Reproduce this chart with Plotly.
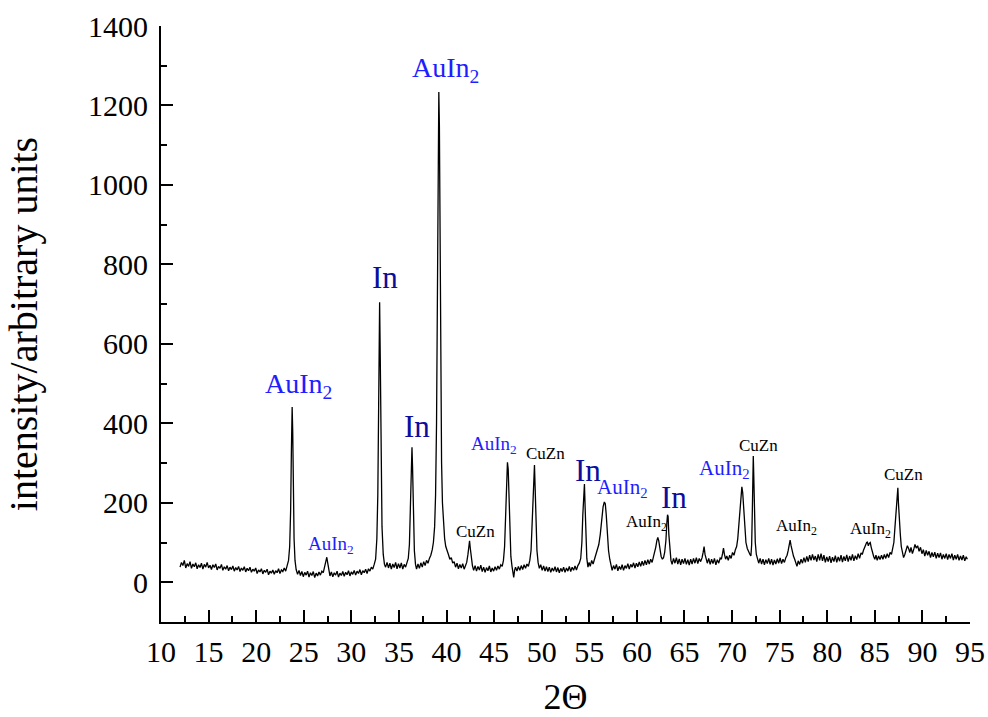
import plotly.graph_objects as go

# (2θ, intensity)
xrd_pattern = [
    (12.00, 38), (12.15, 50), (12.30, 42), (12.45, 55), (12.60, 36), (12.75, 47), (12.90, 40), (13.05, 52),
    (13.20, 35), (13.35, 46), (13.50, 39), (13.65, 49), (13.80, 34), (13.95, 44), (14.10, 37), (14.25, 48),
    (14.40, 33), (14.55, 45), (14.70, 38), (14.85, 50), (15.00, 36), (15.15, 43), (15.30, 32), (15.45, 44),
    (15.60, 37), (15.75, 46), (15.90, 31), (16.05, 40), (16.20, 35), (16.35, 45), (16.50, 30), (16.65, 39),
    (16.80, 33), (16.95, 42), (17.10, 29), (17.25, 38), (17.40, 32), (17.55, 41), (17.70, 28), (17.85, 37),
    (18.00, 31), (18.15, 40), (18.30, 27), (18.45, 36), (18.60, 30), (18.75, 39), (18.90, 26), (19.05, 35),
    (19.20, 29), (19.35, 38), (19.50, 25), (19.65, 33), (19.80, 28), (19.95, 36), (20.10, 22), (20.25, 31),
    (20.40, 26), (20.55, 34), (20.70, 21), (20.85, 30), (21.00, 25), (21.15, 33), (21.30, 19), (21.45, 28),
    (21.60, 23), (21.75, 31), (21.90, 20), (22.05, 29), (22.20, 24), (22.35, 34), (22.50, 22), (22.65, 31),
    (22.80, 27), (22.95, 36), (23.10, 28), (23.25, 42),
    (23.40, 55), (23.52, 90), (23.62, 180), (23.70, 330), (23.78, 441), (23.84, 380), (23.90, 230), (23.98, 110),
    (24.08, 55), (24.20, 32),
    (24.35, 20), (24.50, 30), (24.65, 17), (24.80, 27), (24.95, 14), (25.10, 25), (25.25, 18), (25.40, 28),
    (25.55, 13), (25.70, 24), (25.85, 17), (26.00, 27), (26.15, 12), (26.30, 23), (26.45, 16), (26.60, 26),
    (26.75, 18), (26.90, 28),
    (27.05, 24), (27.18, 38), (27.30, 50), (27.42, 63), (27.52, 48), (27.65, 32),
    (27.75, 16), (27.90, 26), (28.05, 14), (28.20, 24), (28.35, 18), (28.50, 28), (28.65, 13), (28.80, 23),
    (28.95, 17), (29.10, 27), (29.25, 15), (29.40, 25), (29.55, 19), (29.70, 29), (29.85, 16), (30.00, 26),
    (30.15, 20), (30.30, 30), (30.45, 18), (30.60, 28), (30.75, 22), (30.90, 32), (31.05, 19), (31.20, 29),
    (31.35, 24), (31.50, 33), (31.65, 22), (31.80, 34), (31.95, 28), (32.10, 38), (32.25, 33), (32.40, 45),
    (32.55, 58), (32.68, 110), (32.78, 220), (32.87, 450), (32.97, 705), (33.04, 560), (33.12, 300), (33.22, 140),
    (33.35, 70), (33.48, 45),
    (33.60, 38), (33.75, 50), (33.90, 36), (34.05, 48), (34.20, 33), (34.35, 46), (34.50, 37), (34.65, 50),
    (34.80, 34), (34.95, 47), (35.10, 36), (35.25, 49), (35.40, 33), (35.55, 45), (35.70, 38), (35.85, 52),
    (35.98, 60), (36.10, 95), (36.22, 180), (36.32, 300), (36.37, 340), (36.43, 290), (36.52, 160), (36.62, 80),
    (36.74, 45),
    (36.85, 33), (37.00, 46), (37.15, 35), (37.30, 49), (37.45, 38), (37.60, 52), (37.75, 42), (37.90, 55),
    (38.05, 48),
    (38.20, 60), (38.35, 68), (38.50, 82), (38.62, 100), (38.75, 140), (38.85, 220), (38.95, 400), (39.05, 700),
    (39.13, 1050), (39.19, 1234), (39.25, 1150), (39.32, 850), (39.40, 500), (39.48, 300), (39.57, 200), (39.68, 140),
    (39.80, 110), (39.92, 90), (40.05, 78), (40.20, 70), (40.35, 58), (40.50, 62), (40.65, 48), (40.80, 52),
    (40.95, 38), (41.10, 48), (41.25, 34), (41.40, 45), (41.55, 36), (41.70, 47), (41.85, 33), (42.00, 44),
    (42.12, 50),
    (42.25, 70), (42.35, 90), (42.42, 104), (42.50, 85), (42.60, 60), (42.72, 42),
    (42.85, 30), (43.00, 42), (43.15, 28), (43.30, 40), (43.45, 31), (43.60, 43), (43.75, 27), (43.90, 38),
    (44.05, 25), (44.20, 37), (44.35, 29), (44.50, 41), (44.65, 26), (44.80, 36), (44.95, 28), (45.10, 39),
    (45.25, 30), (45.40, 41), (45.55, 33), (45.70, 44), (45.85, 40),
    (45.98, 55), (46.10, 90), (46.20, 160), (46.30, 260), (46.40, 302), (46.48, 285), (46.56, 210), (46.65, 120),
    (46.76, 65), (46.88, 40), (46.98, 22), (47.06, 12), (47.15, 30),
    (47.25, 38), (47.40, 28), (47.55, 40), (47.70, 30), (47.85, 42), (48.00, 32), (48.15, 44), (48.30, 35),
    (48.45, 46), (48.60, 40),
    (48.75, 55), (48.88, 80), (48.98, 140), (49.08, 220), (49.16, 280), (49.24, 295), (49.32, 230), (49.40, 140),
    (49.50, 80), (49.62, 50),
    (49.75, 35), (49.90, 44), (50.05, 30), (50.20, 41), (50.35, 28), (50.50, 39), (50.65, 27), (50.80, 38),
    (50.95, 25), (51.10, 36), (51.25, 28), (51.40, 39), (51.55, 26), (51.70, 37), (51.85, 24), (52.00, 35),
    (52.15, 27), (52.30, 38), (52.45, 25), (52.60, 36), (52.75, 28), (52.90, 40), (53.05, 27), (53.20, 38),
    (53.35, 30), (53.50, 41), (53.65, 31), (53.80, 42), (53.95, 48),
    (54.10, 60), (54.22, 100), (54.32, 170), (54.42, 235), (54.49, 247), (54.56, 190), (54.64, 110), (54.74, 60),
    (54.86, 38), (54.98, 50),
    (55.10, 40), (55.25, 55), (55.40, 46), (55.55, 58),
    (55.70, 66), (55.85, 78), (56.00, 95), (56.15, 120), (56.30, 160), (56.45, 190), (56.58, 202), (56.68, 198),
    (56.78, 170), (56.90, 120), (57.02, 80), (57.15, 58), (57.28, 42),
    (57.40, 30), (57.55, 42), (57.70, 33), (57.85, 45), (58.00, 29), (58.15, 40), (58.30, 32), (58.45, 44),
    (58.60, 30), (58.75, 42), (58.90, 35), (59.05, 47), (59.20, 33), (59.35, 45), (59.50, 38), (59.65, 49),
    (59.80, 36), (59.95, 48), (60.10, 39), (60.25, 51), (60.40, 40), (60.55, 53), (60.70, 42), (60.85, 55),
    (61.00, 44), (61.15, 57), (61.30, 46), (61.45, 58), (61.60, 50), (61.72, 62),
    (61.85, 72), (61.98, 88), (62.10, 105), (62.20, 113), (62.30, 104), (62.42, 85), (62.55, 65), (62.68, 58),
    (62.80, 62),
    (62.92, 75), (63.05, 105), (63.15, 150), (63.22, 170), (63.28, 165), (63.36, 120), (63.46, 75), (63.58, 55),
    (63.70, 45), (63.85, 60), (64.00, 48), (64.15, 62), (64.30, 46), (64.45, 59), (64.60, 44), (64.75, 58),
    (64.90, 47), (65.05, 60), (65.20, 45), (65.35, 57), (65.50, 43), (65.65, 58), (65.80, 46), (65.95, 60),
    (66.10, 48), (66.25, 62), (66.40, 47), (66.55, 60), (66.70, 52),
    (66.85, 62), (66.96, 75), (67.06, 90), (67.16, 70), (67.28, 55),
    (67.40, 48), (67.55, 60), (67.70, 45), (67.85, 58), (68.00, 47), (68.15, 60), (68.30, 44), (68.45, 57),
    (68.60, 48), (68.75, 61), (68.88, 58),
    (69.00, 72), (69.10, 86), (69.20, 70), (69.32, 58), (69.45, 66), (69.60, 55), (69.75, 68), (69.90, 60),
    (70.05, 75), (70.20, 68), (70.35, 82), (70.48, 90),
    (70.60, 110), (70.72, 150), (70.84, 200), (70.95, 235), (71.03, 240), (71.12, 225), (71.22, 180), (71.34, 130),
    (71.46, 100), (71.60, 85), (71.75, 75), (71.88, 70), (71.98, 66),
    (72.06, 95), (72.13, 180), (72.19, 280), (72.23, 318), (72.28, 270), (72.35, 170), (72.44, 100), (72.55, 70),
    (72.68, 58), (72.80, 48),
    (72.95, 60), (73.10, 46), (73.25, 58), (73.40, 44), (73.55, 57), (73.70, 47), (73.85, 60), (74.00, 45),
    (74.15, 58), (74.30, 43), (74.45, 56), (74.60, 46), (74.75, 59), (74.90, 48), (75.05, 61), (75.20, 47),
    (75.35, 58), (75.50, 50), (75.65, 62), (75.78, 68),
    (75.90, 80), (76.00, 95), (76.10, 106), (76.20, 92), (76.32, 78), (76.45, 66), (76.58, 58), (76.70, 50),
    (76.82, 40),
    (76.95, 54), (77.10, 45), (77.25, 58), (77.40, 48), (77.55, 62), (77.70, 50), (77.85, 65), (78.00, 52),
    (78.15, 68), (78.30, 55), (78.45, 70), (78.60, 56), (78.75, 66), (78.90, 52), (79.05, 70), (79.20, 55),
    (79.35, 72), (79.50, 54), (79.65, 68), (79.80, 50), (79.95, 64), (80.10, 52), (80.25, 66), (80.40, 49),
    (80.55, 63), (80.70, 52), (80.85, 67), (81.00, 50), (81.15, 64), (81.30, 53), (81.45, 68), (81.60, 51),
    (81.75, 65), (81.90, 54), (82.05, 69), (82.20, 52), (82.35, 66), (82.50, 55), (82.65, 70), (82.80, 54),
    (82.95, 67), (83.10, 57), (83.25, 72), (83.40, 60), (83.55, 74), (83.68, 70),
    (83.80, 80), (83.92, 88), (84.04, 95), (84.14, 100), (84.22, 101), (84.32, 92), (84.42, 98), (84.52, 100),
    (84.62, 88), (84.74, 75), (84.88, 65), (85.00, 58),
    (85.12, 68), (85.25, 55), (85.40, 66), (85.55, 57), (85.70, 68), (85.85, 58), (86.00, 70), (86.15, 60),
    (86.30, 72), (86.45, 62), (86.60, 75), (86.75, 70), (86.88, 85),
    (87.00, 100), (87.12, 140), (87.24, 190), (87.34, 225), (87.42, 238), (87.48, 200), (87.54, 165), (87.60, 150),
    (87.68, 120), (87.78, 90), (87.90, 72), (88.02, 62),
    (88.15, 70), (88.30, 80), (88.42, 92), (88.55, 85), (88.68, 75), (88.80, 88), (88.95, 72), (89.10, 84),
    (89.22, 95), (89.35, 86), (89.50, 92), (89.65, 78), (89.80, 88), (89.95, 72), (90.10, 82), (90.25, 66),
    (90.40, 80), (90.55, 68), (90.70, 78), (90.85, 62), (91.00, 75), (91.15, 64), (91.30, 76), (91.45, 60),
    (91.60, 73), (91.75, 62), (91.90, 74), (92.05, 58), (92.20, 70), (92.35, 60), (92.50, 72), (92.65, 57),
    (92.80, 70), (92.95, 60), (93.10, 72), (93.25, 56), (93.40, 68), (93.55, 58), (93.70, 70), (93.85, 55),
    (94.00, 66), (94.15, 56), (94.30, 68), (94.45, 54), (94.60, 64), (94.72, 58),
]
two_theta = [p[0] for p in xrd_pattern]
intensity = [p[1] for p in xrd_pattern]

# peak labels: text, left x (2θ), centre y (intensity), colour, font size
label_text = ["AuIn<sub>2</sub>", "AuIn<sub>2</sub>", "In", "AuIn<sub>2</sub>", "In", "CuZn",
              "AuIn<sub>2</sub>", "CuZn", "In", "AuIn<sub>2</sub>", "AuIn<sub>2</sub>", "In",
              "AuIn<sub>2</sub>", "CuZn", "AuIn<sub>2</sub>", "AuIn<sub>2</sub>", "CuZn"]
label_x = [20.75, 25.26, 31.99, 36.18, 35.31, 40.81, 42.38, 48.16, 53.30, 55.60, 58.67, 62.37,
           66.30, 70.50, 74.42, 82.23, 85.74]
label_y = [496, 93, 766, 1290, 391, 129, 345, 324, 282, 237, 148, 214, 285, 343, 139, 131, 271]
BLUE = "#1e1eff"
NAVY = "#0d0d9c"
BLACK = "#000000"
label_color = [BLUE, BLUE, NAVY, BLUE, NAVY, BLACK, BLUE, BLACK, NAVY, BLUE, BLACK, NAVY,
               BLUE, BLACK, BLACK, BLACK, BLACK]
label_size = [28, 19, 31, 28, 31, 17, 19, 17, 31, 21, 17, 31, 21, 17, 17, 17, 17]

FONT = "Liberation Serif"

fig = go.Figure()
fig.add_trace(go.Scatter(x=two_theta, y=intensity, mode="lines",
                         line=dict(color="black", width=1.3), showlegend=False))

for t, x, y, c, s in zip(label_text, label_x, label_y, label_color, label_size):
    fig.add_annotation(x=x, y=y, text=t, showarrow=False, xanchor="left", yanchor="middle",
                       font=dict(family=FONT, size=s, color=c))

axis_common = dict(showline=True, linecolor="black", linewidth=2, ticks="inside",
                   tickcolor="black", tickwidth=2, ticklen=12, showgrid=False, zeroline=False,
                   mirror=False, automargin=False, tickfont=dict(family=FONT, size=30, color="black"))

fig.update_xaxes(range=[10, 95], tick0=10, dtick=5, ticklabelstandoff=2,
                 minor=dict(ticks="inside", ticklen=6, tickwidth=2, tickcolor="black", dtick=2.5, tick0=10),
                 title=dict(text="2Θ", font=dict(family=FONT, size=36, color="black"), standoff=22),
                 **axis_common)
fig.update_yaxes(range=[-100, 1400], tick0=0, dtick=200, ticklabelstandoff=5,
                 minor=dict(ticks="inside", ticklen=6, tickwidth=2, tickcolor="black", dtick=100, tick0=0),
                 title=dict(text="intensity/arbitrary units", font=dict(family=FONT, size=40, color="black"), standoff=38),
                 **axis_common)

fig.update_layout(width=988, height=717, margin=dict(l=161, r=18, t=26, b=95),
                  plot_bgcolor="white", paper_bgcolor="white")

fig.write_html("out.html")
